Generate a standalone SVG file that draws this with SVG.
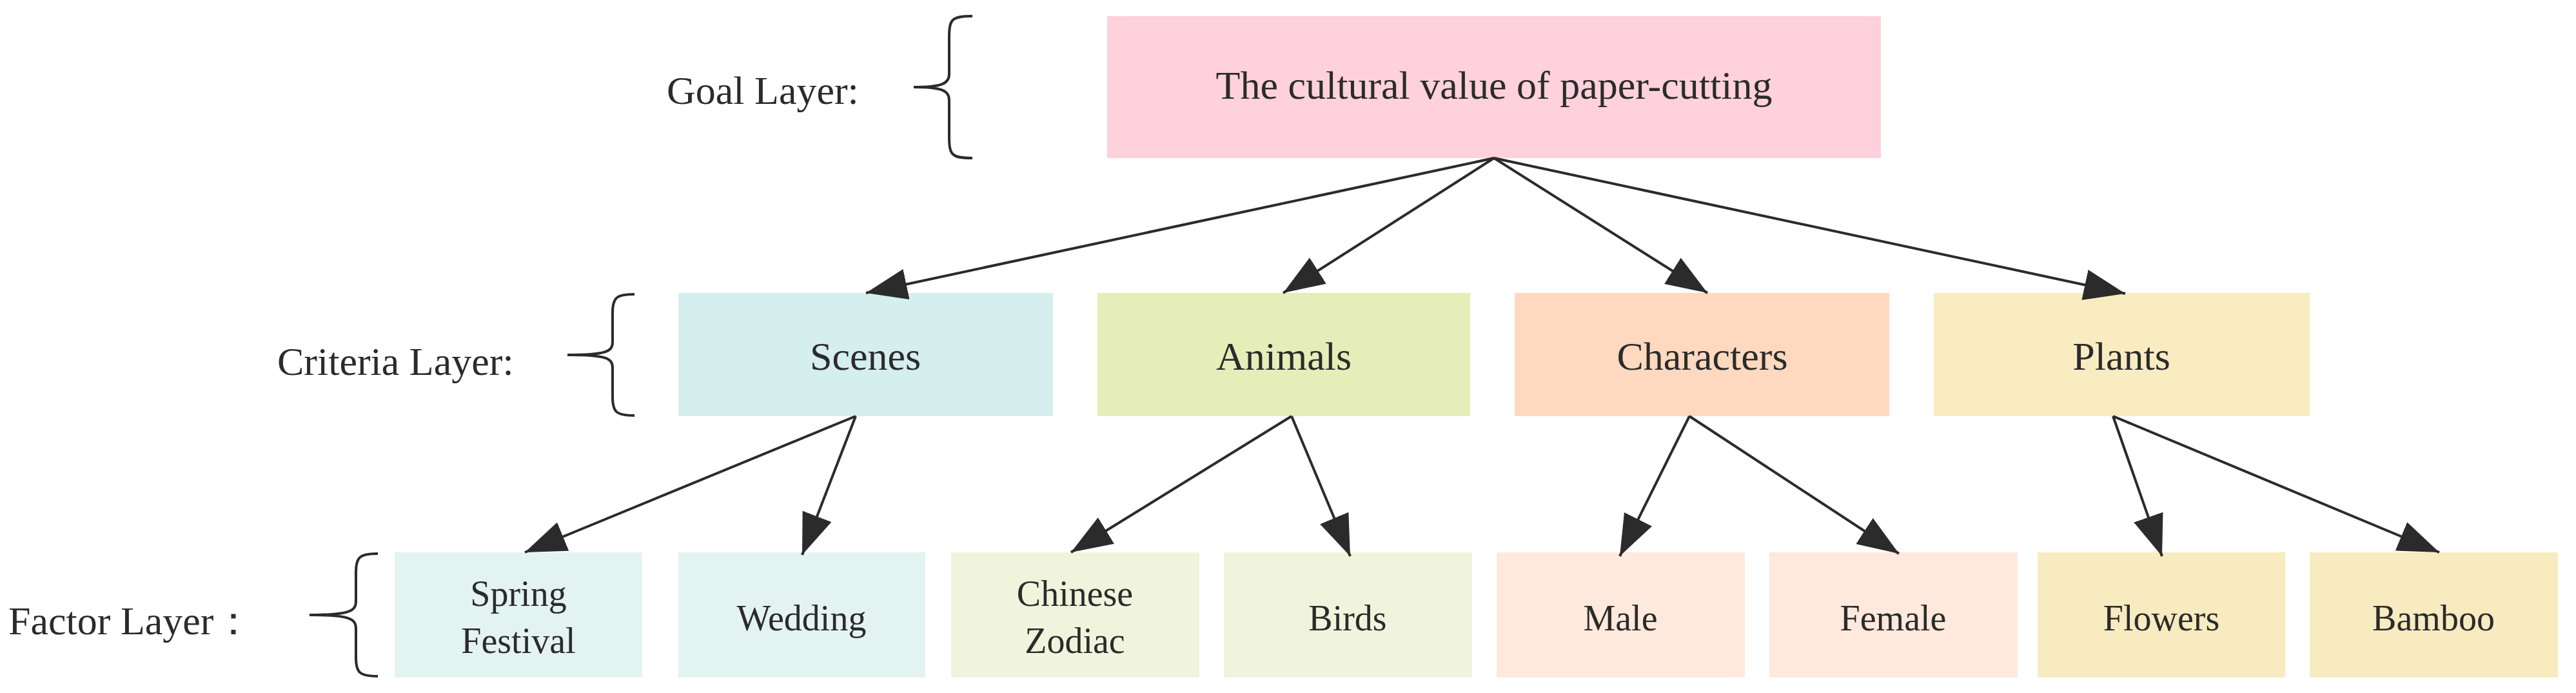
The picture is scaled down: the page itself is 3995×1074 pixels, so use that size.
<svg xmlns="http://www.w3.org/2000/svg" width="3995" height="1074" viewBox="0 0 3995 1074">
<style>
text{font-family:"Liberation Serif",serif;fill:#2b2b2b;text-anchor:middle;dominant-baseline:central}
.c{font-size:62px}.f{font-size:56px}.l{font-size:62px;text-anchor:start}
.e{stroke:#2b2b2b;stroke-width:4;fill:none;marker-end:url(#a)}
.b{stroke:#2b2b2b;stroke-width:4;fill:none}
</style>
<defs><marker id="a" viewBox="0 0 16 12" refX="16" refY="6" markerWidth="16" markerHeight="12" markerUnits="strokeWidth" orient="auto"><path d="M0,0L16,6L0,12z" fill="#2b2b2b"/></marker></defs>
<rect width="3995" height="1074" fill="#fff"/>
<g id="labels">
<text class="l" x="1034" y="140">Goal Layer:</text>
<path class="b" d="M1508,25 C1475,25 1472,30 1472,60 L1472,115 C1472,130 1460,135 1417,135 C1460,135 1472,140 1472,155 L1472,210 C1472,240 1475,245 1508,245"/>
<text class="l" x="430" y="560">Criteria Layer:</text>
<path class="b" d="M984,456 C955,456 950,462 950,485 L950,530 C950,545 940,550 880,550 C940,550 950,555 950,570 L950,615 C950,638 955,644 984,644"/>
<text class="l" x="13" y="962">Factor Layer：</text>
<path class="b" d="M586,858 C557,858 552,864 552,887 L552,932 C552,947 542,953 480,953 C542,953 552,959 552,974 L552,1019 C552,1042 557,1048 586,1048"/>
</g>
<g id="goal"><rect x="1717" y="25" width="1200" height="220" fill="#FFD1DC"/><text class="c" x="2317" y="132">The cultural value of paper-cutting</text></g>
<g id="scenes"><rect x="1052" y="454" width="581" height="191" fill="#D5EEEE"/><text class="c" x="1342" y="552">Scenes</text></g>
<g id="animals"><rect x="1702" y="454" width="578" height="191" fill="#E5EDB8"/><text class="c" x="1991" y="552">Animals</text></g>
<g id="characters"><rect x="2349" y="454" width="581" height="191" fill="#FFD9BF"/><text class="c" x="2640" y="552">Characters</text></g>
<g id="plants"><rect x="2999" y="454" width="583" height="191" fill="#F8ECC0"/><text class="c" x="3290" y="552">Plants</text></g>
<g id="spring"><rect x="612" y="856" width="384" height="194" fill="#E3F3F2"/><text class="f" x="804" y="920">Spring</text><text class="f" x="804" y="993">Festival</text></g>
<g id="wedding"><rect x="1052" y="856" width="383" height="194" fill="#E3F3F2"/><text class="f" x="1243" y="958">Wedding</text></g>
<g id="zodiac"><rect x="1475" y="856" width="385" height="194" fill="#F1F4DC"/><text class="f" x="1667" y="920">Chinese</text><text class="f" x="1667" y="993">Zodiac</text></g>
<g id="birds"><rect x="1898" y="856" width="385" height="194" fill="#F1F4DC"/><text class="f" x="2090" y="958">Birds</text></g>
<g id="male"><rect x="2321" y="856" width="385" height="194" fill="#FFE9DC"/><text class="f" x="2513" y="958">Male</text></g>
<g id="female"><rect x="2744" y="856" width="385" height="194" fill="#FFE9DC"/><text class="f" x="2936" y="958">Female</text></g>
<g id="flowers"><rect x="3160" y="856" width="384" height="194" fill="#F7EBBF"/><text class="f" x="3352" y="958">Flowers</text></g>
<g id="bamboo"><rect x="3582" y="856" width="385" height="194" fill="#F7EBBF"/><text class="f" x="3774" y="958">Bamboo</text></g>
<g id="connectors">
<path class="e" d="M2317,245L1343,454"/>
<path class="e" d="M2317,245L1990,454"/>
<path class="e" d="M2317,245L2648,454"/>
<path class="e" d="M2317,245L3296,455"/>
<path class="e" d="M1327,645L814,856"/>
<path class="e" d="M1327,645L1244,860"/>
<path class="e" d="M2003,645L1661,856"/>
<path class="e" d="M2003,645L2094,862"/>
<path class="e" d="M2620,645L2512,862"/>
<path class="e" d="M2620,645L2945,858"/>
<path class="e" d="M3277,645L3353,862"/>
<path class="e" d="M3277,645L3783,856"/>
</g>
</svg>
